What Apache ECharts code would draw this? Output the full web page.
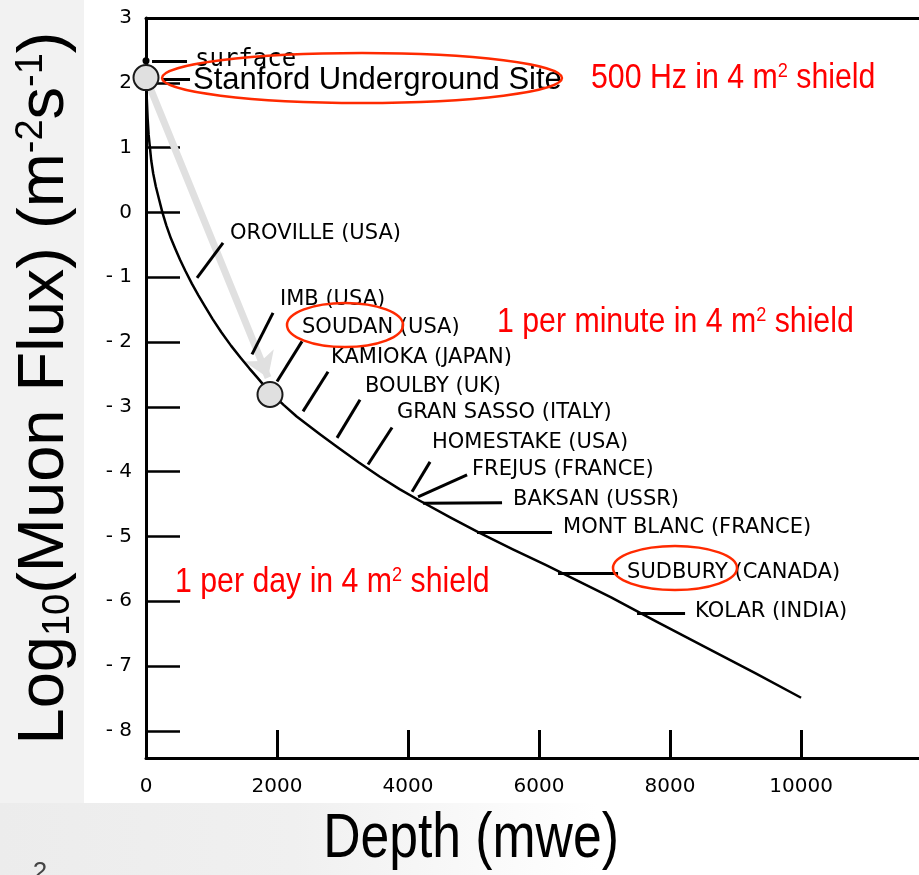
<!DOCTYPE html>
<html>
<head>
<meta charset="utf-8">
<script src="https://cdn.jsdelivr.net/npm/echarts@6/dist/echarts.min.js"></script>
<style>
html, body { margin: 0; padding: 0; background: #fff; }
#chart { width: 919px; height: 875px; }
</style>
</head>
<body>
<div id="chart"></div>
<script>
// tick values
const yTicks = [3, 2, 1, 0, -1, -2, -3, -4, -5, -6, -7, -8];
const xTicks = [0, 2000, 4000, 6000, 8000, 10000];

// depth-intensity curve (mwe, log10 flux)
const curveDepth = [0, 10, 25, 40, 60, 80, 110, 150, 200, 250, 310, 380, 450, 520, 600, 700, 800, 900, 1020, 1150, 1300, 1450,
  1580, 1700, 1800, 1900, 2100, 2300, 2480, 2650, 2920, 3250, 3570, 3870, 4180, 4650, 5100, 5600, 6100, 6600, 7100, 7800, 8560, 9300, 10000];
const curveFlux = [2.1, 1.8, 1.45, 1.2, 1.0, 0.8, 0.6, 0.4, 0.2, 0, -0.2, -0.4, -0.57, -0.73, -0.9, -1.1, -1.28, -1.45, -1.65, -1.85, -2.06, -2.25,
  -2.41, -2.55, -2.67, -2.78, -2.97, -3.15, -3.29, -3.42, -3.62, -3.86, -4.08, -4.27, -4.45, -4.71, -4.95, -5.2, -5.44, -5.69, -5.94, -6.32, -6.72, -7.11, -7.49];

// underground labs: label anchor and leader line ends (depth, log flux)
const siteNames = ['OROVILLE (USA)', 'IMB (USA)', 'SOUDAN (USA)', 'KAMIOKA (JAPAN)', 'BOULBY (UK)', 'GRAN SASSO (ITALY)',
  'HOMESTAKE (USA)', 'FREJUS (FRANCE)', 'BAKSAN (USSR)', 'MONT BLANC (FRANCE)', 'SUDBURY (CANADA)', 'KOLAR (INDIA)'];
const siteLabelAt = [[1282, -0.33], [2046, -1.35], [2382, -1.78], [2824, -2.24], [3344, -2.69], [3832, -3.09],
  [4366, -3.55], [4977, -3.97], [5603, -4.43], [6366, -4.86], [7344, -5.56], [8382, -6.16]];
const leaderFrom = [[779, -1.01], [1618, -2.19], [2000, -2.61], [2397, -3.07], [2916, -3.48], [3389, -3.89],
  [4061, -4.31], [4153, -4.39], [4229, -4.49], [5053, -4.94], [6290, -5.57], [7496, -6.19]];
const leaderTo = [[1176, -0.47], [1939, -1.55], [2382, -1.99], [2779, -2.46], [3267, -2.89], [3756, -3.32],
  [4336, -3.85], [4901, -4.05], [5435, -4.48], [6198, -4.94], [7206, -5.57], [8229, -6.19]];

// surface / Stanford marks near the top
const topNames = ['surface', 'Stanford Underground Site'];
const topLabelAt = [[748, 2.36], [718, 2.03]];
const topLeaderFrom = [[92, 2.34], [260, 2.05]];
const topLeaderTo = [[626, 2.34], [672, 2.05]];
const surfacePoint = [[0, 2.34]];

// highlighted points and the arrow between them
const markedPoints = [[0, 2.08], [1893, -2.81]];
const arrowPath = [[60, 1.93], [1863, -2.55]];

const chart = echarts.init(document.getElementById('chart'));

const fmtTick = v => (v < 0 ? '- ' + (-v) : String(v));
const tickFont = { color: '#000', fontFamily: 'DejaVu Sans', fontSize: 20 };
const red = '#ff0000';

const leaders = leaderFrom.map((p, i) => ({ coords: [p, leaderTo[i]] }))
  .concat(topLeaderFrom.map((p, i) => ({ coords: [p, topLeaderTo[i]] })));

const option = {
  animation: false,
  backgroundColor: '#fff',
  grid: { left: 146, top: 18, right: 0, bottom: 117 },
  xAxis: [{
    type: 'value', min: 0, max: 11800, position: 'bottom',
    axisLine: { show: true, onZero: false, lineStyle: { color: '#000', width: 3 } },
    axisTick: { show: true, inside: true, length: 28, customValues: xTicks.slice(1), lineStyle: { color: '#000', width: 3 } },
    axisLabel: Object.assign({ customValues: xTicks, margin: 19, formatter: v => String(v) }, tickFont),
    splitLine: { show: false }
  }, {
    type: 'value', min: 0, max: 11800, position: 'top',
    axisLine: { show: true, onZero: false, lineStyle: { color: '#000', width: 3 } },
    axisTick: { show: false }, axisLabel: { show: false }, splitLine: { show: false }
  }],
  yAxis: {
    type: 'value', min: -8.42, max: 3,
    axisLine: { show: true, onZero: false, lineStyle: { color: '#000', width: 3 } },
    axisTick: { show: true, inside: true, length: 34, customValues: yTicks, lineStyle: { color: '#000', width: 2.5 } },
    axisLabel: Object.assign({ customValues: yTicks, margin: 14, formatter: fmtTick }, tickFont),
    splitLine: { show: false }
  },
  series: [
    {
      type: 'lines', coordinateSystem: 'cartesian2d', silent: true, z: 1,
      symbol: ['none', 'arrow'], symbolSize: 24,
      lineStyle: { color: '#e0e0e0', width: 7, opacity: 1, curveness: 0 },
      data: [{ coords: arrowPath }]
    },
    {
      type: 'line', z: 3, silent: true,
      data: curveDepth.map((d, i) => [d, curveFlux[i]]),
      smooth: false, symbol: 'none',
      lineStyle: { color: '#000', width: 2.5, join: 'round' }
    },
    {
      type: 'lines', coordinateSystem: 'cartesian2d', silent: true, z: 3,
      lineStyle: { color: '#000', width: 3, opacity: 1, curveness: 0 },
      data: leaders
    },
    {
      type: 'scatter', z: 5, silent: true, clip: false,
      symbolSize: 7, itemStyle: { color: '#000', opacity: 1 },
      data: surfacePoint
    },
    {
      type: 'scatter', z: 6, silent: true, clip: false,
      symbolSize: 25,
      itemStyle: { color: '#e0e0e0', borderColor: '#1a1a1a', borderWidth: 2, opacity: 1 },
      data: markedPoints
    },
    {
      type: 'scatter', z: 7, silent: true, clip: false, symbolSize: 0,
      itemStyle: { opacity: 1 },
      label: { show: true, position: 'right', distance: 0, formatter: '{b}', color: '#000', fontFamily: 'DejaVu Sans', fontSize: 21 },
      data: siteNames.map((n, i) => ({ name: n, value: siteLabelAt[i] }))
    },
    {
      type: 'scatter', z: 7, silent: true, clip: false, symbolSize: 0,
      itemStyle: { opacity: 1 },
      label: { show: true, position: 'right', distance: 0, formatter: '{b}', color: '#000' },
      data: [
        { name: topNames[0], value: topLabelAt[0], label: { fontFamily: 'DejaVu Sans Mono', fontSize: 24 } },
        { name: topNames[1], value: topLabelAt[1], label: { fontFamily: 'Liberation Sans', fontSize: 31 } }
      ]
    }
  ],
  graphic: [
    { type: 'rect', z: -10, silent: true, shape: { x: 0, y: 0, width: 84, height: 875 }, style: { fill: '#f2f2f2' } },
    {
      type: 'rect', z: -10, silent: true, shape: { x: 0, y: 803, width: 919, height: 72 },
      style: {
        fill: new echarts.graphic.LinearGradient(0, 0, 1, 0, [
          { offset: 0, color: '#ececec' }, { offset: 0.32, color: '#f0f0f0' }, { offset: 0.65, color: '#ffffff' }
        ])
      }
    },
    { type: 'text', z: 50, silent: true, x: 40, y: 860, style: { text: '2', fontSize: 26, fontFamily: 'Liberation Sans', fill: '#444', align: 'center', verticalAlign: 'top' } },
    {
      type: 'text', z: 50, silent: true, x: 45, y: 388, rotation: Math.PI / 2,
      style: {
        text: '{a|Log}{b|10}{a|(Muon Flux) (m}{c|-2}{a|s}{c|-1}{a|)}',
        align: 'center', verticalAlign: 'middle',
        rich: {
          a: { fontSize: 65, fontFamily: 'Liberation Sans', fill: '#000', lineHeight: 65 },
          b: { fontSize: 38, fontFamily: 'Liberation Sans', fill: '#000', verticalAlign: 'bottom', lineHeight: 22 },
          c: { fontSize: 38, fontFamily: 'Liberation Sans', fill: '#000', verticalAlign: 'top' }
        }
      }
    },
    {
      type: 'text', z: 50, silent: true, x: 471, y: 840, scaleX: 0.82,
      style: { text: 'Depth (mwe)', fontSize: 63, fontFamily: 'Liberation Sans', fill: '#000', align: 'center', verticalAlign: 'middle' }
    },
    {
      type: 'text', z: 50, silent: true, x: 591, y: 78, scaleX: 0.865,
      style: {
        text: '{a|500 Hz in 4 m}{s|2}{a| shield}', verticalAlign: 'middle',
        rich: { a: { fontSize: 35, fontFamily: 'Liberation Sans', fill: red }, s: { fontSize: 21, fontFamily: 'Liberation Sans', fill: red, verticalAlign: 'top' } }
      }
    },
    {
      type: 'text', z: 50, silent: true, x: 497, y: 322, scaleX: 0.865,
      style: {
        text: '{a|1 per minute in 4 m}{s|2}{a| shield}', verticalAlign: 'middle',
        rich: { a: { fontSize: 35, fontFamily: 'Liberation Sans', fill: red }, s: { fontSize: 21, fontFamily: 'Liberation Sans', fill: red, verticalAlign: 'top' } }
      }
    },
    {
      type: 'text', z: 50, silent: true, x: 175, y: 582, scaleX: 0.865,
      style: {
        text: '{a|1 per day in 4 m}{s|2}{a| shield}', verticalAlign: 'middle',
        rich: { a: { fontSize: 35, fontFamily: 'Liberation Sans', fill: red }, s: { fontSize: 21, fontFamily: 'Liberation Sans', fill: red, verticalAlign: 'top' } }
      }
    },
    { type: 'ellipse', z: 60, silent: true, shape: { cx: 362, cy: 78, rx: 200, ry: 25 }, style: { fill: 'none', stroke: '#ff2a00', lineWidth: 2.5 } },
    { type: 'ellipse', z: 60, silent: true, shape: { cx: 345, cy: 325, rx: 58, ry: 22 }, style: { fill: 'none', stroke: '#ff2a00', lineWidth: 2.5 } },
    { type: 'ellipse', z: 60, silent: true, shape: { cx: 675, cy: 568, rx: 62, ry: 22 }, style: { fill: 'none', stroke: '#ff2a00', lineWidth: 2.5 } }
  ]
};

chart.setOption(option);
</script>
</body>
</html>
